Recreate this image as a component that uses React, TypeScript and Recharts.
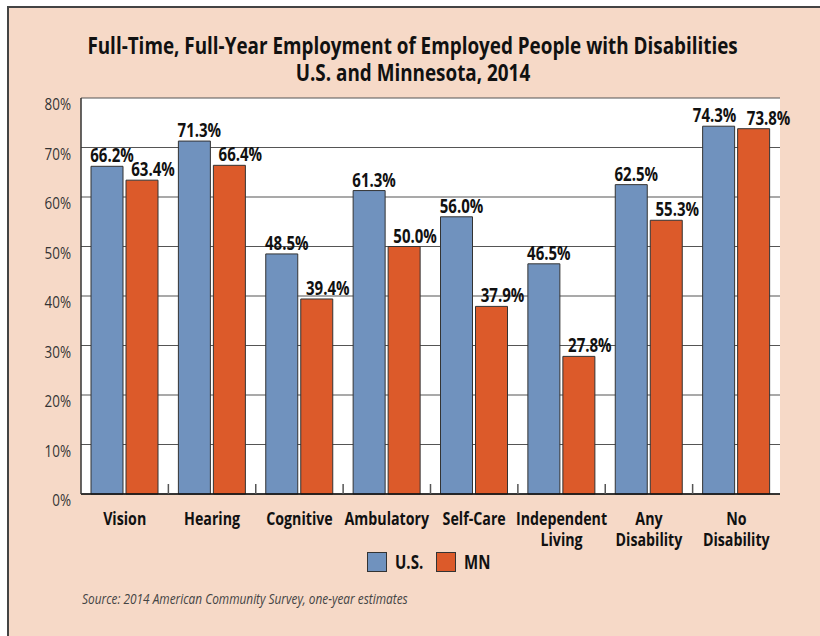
import React from 'react';
import { BarChart, Bar, XAxis, YAxis, CartesianGrid, LabelList } from 'recharts';

const categories = ['Vision', 'Hearing', 'Cognitive', 'Ambulatory', 'Self-Care', 'Independent\nLiving', 'Any\nDisability', 'No\nDisability'];
const usValues = [66.2, 71.3, 48.5, 61.3, 56.0, 46.5, 62.5, 74.3];
const mnValues = [63.4, 66.4, 39.4, 50.0, 37.9, 27.8, 55.3, 73.8];
const yTicks = [0, 10, 20, 30, 40, 50, 60, 70, 80];
const seriesNames = ['U.S.', 'MN'];
const seriesColors = ['#7092be', '#dc5a2a'];

const data = categories.map((name, i) => ({ name, us: usValues[i], mn: mnValues[i] }));

// no condensed font installed, so squeeze Open Sans horizontally
const FONT = "'Open Sans', 'Noto Sans', sans-serif";
const SQ = 0.79;
const PEACH = '#f6d9c7';
const INK = '#111';

const XTick = (props: any) => {
  const { x, y, payload, index } = props;
  const lines = String(payload.value).split('\n');
  const boundary = payload.coordinate + payload.offset;
  return (
    <g>
      {index < categories.length - 1 && (
        <line x1={boundary} x2={boundary} y1={y - 10} y2={y} stroke="#555" strokeWidth={1.5} />
      )}
      <text transform={`translate(${x},${y + 31}) scale(${SQ},1)`} textAnchor="middle" fontFamily={FONT} fontWeight="bold" fontSize={18} fill={INK}>
        {lines.map((l, i) => (
          <tspan key={i} x={0} dy={i === 0 ? 0 : 21}>{l}</tspan>
        ))}
      </text>
    </g>
  );
};

const YTick = (props: any) => {
  const { x, y, payload } = props;
  return (
    <text transform={`translate(${x},${y + 12}) scale(${SQ},1)`} textAnchor="end" fontFamily={FONT} fontSize={17} fill="#333">
      {payload.value}%
    </text>
  );
};

// labels sit a bit right of the bar centre; when the pair is almost level, push them apart
const makeValueLabel = (series: 'us' | 'mn') => (props: any) => {
  const { x, y, width, value, index } = props;
  const close = Math.abs(usValues[index] - mnValues[index]) < 2;
  const dx = series === 'us' ? (close ? -4 : 5) : (close ? 15 : 11);
  return (
    <text transform={`translate(${x + width / 2 + dx},${y - 4}) scale(${SQ},1)`} textAnchor="middle" fontFamily={FONT} fontWeight="bold" fontSize={19} fill={INK}>
      {Number(value).toFixed(1)}%
    </text>
  );
};

const squeeze: React.CSSProperties = { display: 'inline-block', transform: `scaleX(${SQ})`, whiteSpace: 'nowrap' };

export default function App() {
  return (
    <div style={{ position: 'absolute', left: 0, top: 0, width: 820, height: 636, overflow: 'hidden', background: '#fff' }}>
      <div style={{ position: 'absolute', left: 7, top: 6, width: 900, height: 700, background: PEACH, borderLeft: '2px solid #444', borderTop: '2px solid #444' }} />
      <div style={{ position: 'absolute', left: 0, top: 32, width: 826, textAlign: 'center', fontFamily: FONT, fontWeight: 'bold', fontSize: 23, lineHeight: '26.5px', color: INK }}>
        <span style={{ ...squeeze, transform: 'scaleX(0.82)' }}>Full-Time, Full-Year Employment of Employed People with Disabilities</span>
        <br />
        <span style={{ ...squeeze, transform: 'scaleX(0.82)' }}>U.S. and Minnesota, 2014</span>
      </div>
      <div style={{ position: 'absolute', left: 0, top: 0 }}>
        <BarChart width={820} height={636} data={data} margin={{ top: 98, right: 40, bottom: 0, left: 21 }} barSize={32} barGap={3}>
          <CartesianGrid vertical={false} stroke="#555" strokeWidth={1.2} fill="#fff" fillOpacity={1} />
          <XAxis dataKey="name" tickLine={false} tickSize={0} tickMargin={0} axisLine={{ stroke: '#111', strokeWidth: 1.5 }} tick={<XTick />} interval={0} height={142} />
          <YAxis domain={[0, 80]} ticks={yTicks} width={60} tickLine={false} tickSize={0} tickMargin={10} axisLine={{ stroke: '#333', strokeWidth: 1.5 }} tick={<YTick />} />
          <YAxis yAxisId="frame" orientation="right" domain={[0, 80]} width={0} tick={false} tickLine={false} axisLine={{ stroke: '#555', strokeWidth: 1.2 }} />
          <Bar dataKey="us" name={seriesNames[0]} fill={seriesColors[0]} stroke="#333" strokeWidth={1} isAnimationActive={false}>
            <LabelList dataKey="us" content={makeValueLabel('us')} />
          </Bar>
          <Bar dataKey="mn" name={seriesNames[1]} fill={seriesColors[1]} stroke="#333" strokeWidth={1} isAnimationActive={false}>
            <LabelList dataKey="mn" content={makeValueLabel('mn')} />
          </Bar>
        </BarChart>
      </div>
      <div style={{ position: 'absolute', left: 367, top: 552, display: 'flex', alignItems: 'center', fontFamily: FONT, fontWeight: 'bold', fontSize: 19, color: INK }}>
        {seriesNames.map((n, i) => (
          <div key={n} style={{ display: 'flex', alignItems: 'center', marginRight: 11 }}>
            <span style={{ display: 'inline-block', width: 18, height: 18, background: seriesColors[i], border: '1px solid #333', marginRight: 8 }} />
            <span style={{ ...squeeze, transformOrigin: 'left center', lineHeight: '20px', width: 30 }}>{n}</span>
          </div>
        ))}
      </div>
      <div style={{ position: 'absolute', left: 82, top: 588, fontFamily: FONT, fontStyle: 'italic', fontSize: 15, color: '#444' }}>
        <span style={{ ...squeeze, transformOrigin: 'left center' }}>Source: 2014 American Community Survey, one-year estimates</span>
      </div>
    </div>
  );
}
